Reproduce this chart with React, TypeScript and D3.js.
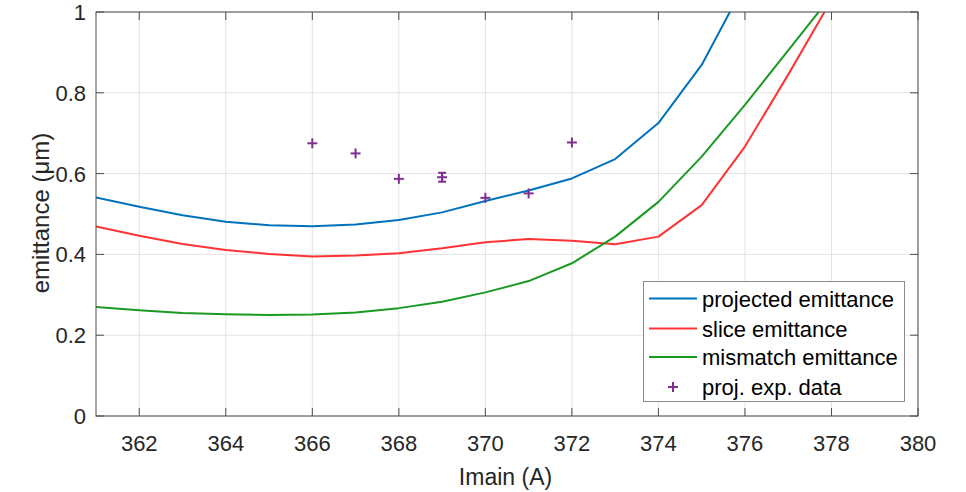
import React, { useEffect, useRef } from 'react'
import * as d3 from 'd3'

// 电流 (A)
const current = [361, 362, 363, 364, 365, 366, 367, 368, 369, 370, 371, 372, 373, 374, 375, 376, 377, 378]
const projected = [0.541, 0.518, 0.497, 0.481, 0.472, 0.4695, 0.474, 0.485, 0.504, 0.532, 0.558, 0.588, 0.636, 0.725, 0.869, 1.07, 1.35, 1.7]
const slice = [0.469, 0.446, 0.426, 0.411, 0.401, 0.395, 0.397, 0.403, 0.415, 0.430, 0.438, 0.434, 0.425, 0.444, 0.522, 0.667, 0.845, 1.03]
const mismatch = [0.270, 0.262, 0.255, 0.252, 0.250, 0.251, 0.256, 0.267, 0.283, 0.306, 0.334, 0.378, 0.444, 0.530, 0.642, 0.770, 0.905, 1.04]

// 实验数据
const expCurrent = [366, 367, 368, 369, 370, 371, 372]
const expValue = [0.675, 0.650, 0.587, 0.591, 0.540, 0.551, 0.677]
const expError = [0, 0, 0, 0.011, 0, 0, 0]

const xTicks = [362, 364, 366, 368, 370, 372, 374, 376, 378, 380]
const yTicks = [0, 0.2, 0.4, 0.6, 0.8, 1]

const seriesNames = ['projected emittance', 'slice emittance', 'mismatch emittance', 'proj. exp. data']
const colors = ['#0072BD', '#FF3333', '#1A9A22', '#7E2F8E']

export default function App() {
    const ref = useRef<SVGSVGElement>(null)

    useEffect(() => {
        const width = 966, height = 492
        const padding = { top: 12, right: 48, bottom: 76, left: 96 }
        const font = 'Liberation Sans, Arial, Helvetica, sans-serif'
        const axisColor = '#4d4d4d'

        const svg = d3.select(ref.current)
        svg.selectAll('*').remove()

        const x = d3.scaleLinear().domain([361, 380]).range([padding.left, width - padding.right])
        const y = d3.scaleLinear().domain([0, 1]).range([height - padding.bottom, padding.top])
        const [x0, x1] = x.range()
        const [y0, y1] = y.range()

        svg.append('defs').append('clipPath').attr('id', 'plot-clip')
            .append('rect').attr('x', x0).attr('y', y1).attr('width', x1 - x0).attr('height', y0 - y1)

        //网格
        const grid = svg.append('g').attr('stroke', '#e3e3e3').attr('stroke-width', 1)
        xTicks.forEach(t => {
            grid.append('line').attr('x1', x(t)).attr('x2', x(t)).attr('y1', y1).attr('y2', y0)
        })
        yTicks.forEach(t => {
            grid.append('line').attr('x1', x0).attr('x2', x1).attr('y1', y(t)).attr('y2', y(t))
        })

        //曲线
        const line = d3.line<number>()
            .x((d, i) => x(current[i]))
            .y(d => y(d))
        const plot = svg.append('g').attr('clip-path', 'url(#plot-clip)')
        ;[projected, slice, mismatch].forEach((s, k) => {
            plot.append('path')
                .datum(s)
                .attr('fill', 'none')
                .attr('stroke', colors[k])
                .attr('stroke-width', 2)
                .attr('stroke-linejoin', 'round')
                .attr('d', line)
        })

        //实验点
        const pts = plot.append('g').attr('stroke', colors[3]).attr('stroke-width', 2)
        expCurrent.forEach((c, i) => {
            const cx = x(c), cy = y(expValue[i])
            pts.append('line').attr('x1', cx - 5).attr('x2', cx + 5).attr('y1', cy).attr('y2', cy)
            pts.append('line').attr('x1', cx).attr('x2', cx).attr('y1', cy - 5).attr('y2', cy + 5)
            if (expError[i] > 0) {
                const ya = y(expValue[i] + expError[i]), yb = y(expValue[i] - expError[i])
                pts.append('line').attr('x1', cx).attr('x2', cx).attr('y1', ya).attr('y2', yb)
                pts.append('line').attr('x1', cx - 4).attr('x2', cx + 4).attr('y1', ya).attr('y2', ya)
                pts.append('line').attr('x1', cx - 4).attr('x2', cx + 4).attr('y1', yb).attr('y2', yb)
            }
        })

        //坐标轴框和刻度
        const axes = svg.append('g').attr('stroke', axisColor).attr('stroke-width', 1).attr('fill', 'none')
        axes.append('rect').attr('x', x0).attr('y', y1).attr('width', x1 - x0).attr('height', y0 - y1)
        const tl = 8
        xTicks.forEach(t => {
            axes.append('line').attr('x1', x(t)).attr('x2', x(t)).attr('y1', y0).attr('y2', y0 - tl)
            axes.append('line').attr('x1', x(t)).attr('x2', x(t)).attr('y1', y1).attr('y2', y1 + tl)
        })
        yTicks.forEach(t => {
            axes.append('line').attr('x1', x0).attr('x2', x0 + tl).attr('y1', y(t)).attr('y2', y(t))
            axes.append('line').attr('x1', x1).attr('x2', x1 - tl).attr('y1', y(t)).attr('y2', y(t))
        })

        const labels = svg.append('g').attr('font-family', font).attr('fill', '#262626')
        xTicks.forEach(t => {
            labels.append('text').attr('x', x(t)).attr('y', y0 + 35)
                .attr('text-anchor', 'middle').attr('font-size', 22).text(t)
        })
        yTicks.forEach(t => {
            labels.append('text').attr('x', x0 - 10).attr('y', y(t) + 8)
                .attr('text-anchor', 'end').attr('font-size', 22).text(t)
        })
        labels.append('text').attr('x', 505.5).attr('y', y0 + 69)
            .attr('text-anchor', 'middle').attr('font-size', 23).text('Imain (A)')
        labels.append('text')
            .attr('transform', 'translate(49,' + ((y0 + y1) / 2 - 1) + ') rotate(-90)')
            .attr('text-anchor', 'middle').attr('font-size', 24).text('emittance (μm)')

        //图例
        const lg = svg.append('g').attr('font-family', font)
        lg.append('rect').attr('x', 643.5).attr('y', 281.5).attr('width', 261).attr('height', 120)
            .attr('fill', '#fff').attr('stroke', '#8a8a8a').attr('stroke-width', 1)
        const rows = [298.5, 328.5, 357, 387]
        seriesNames.forEach((name, k) => {
            const ry = rows[k]
            if (k < 3) {
                lg.append('line').attr('x1', 649).attr('x2', 697).attr('y1', ry).attr('y2', ry)
                    .attr('stroke', colors[k]).attr('stroke-width', 2)
            } else {
                lg.append('line').attr('x1', 668).attr('x2', 678).attr('y1', ry).attr('y2', ry)
                    .attr('stroke', colors[k]).attr('stroke-width', 2)
                lg.append('line').attr('x1', 673).attr('x2', 673).attr('y1', ry - 5).attr('y2', ry + 5)
                    .attr('stroke', colors[k]).attr('stroke-width', 2)
            }
            lg.append('text').attr('x', 702).attr('y', ry + 8).attr('font-size', 22)
                .attr('fill', '#000').text(name)
        })
    }, [])

    return (
        <svg ref={ref} width={966} height={492} style={{ display: 'block', position: 'absolute', left: 0, top: 0, background: '#fff' }} />
    )
}
